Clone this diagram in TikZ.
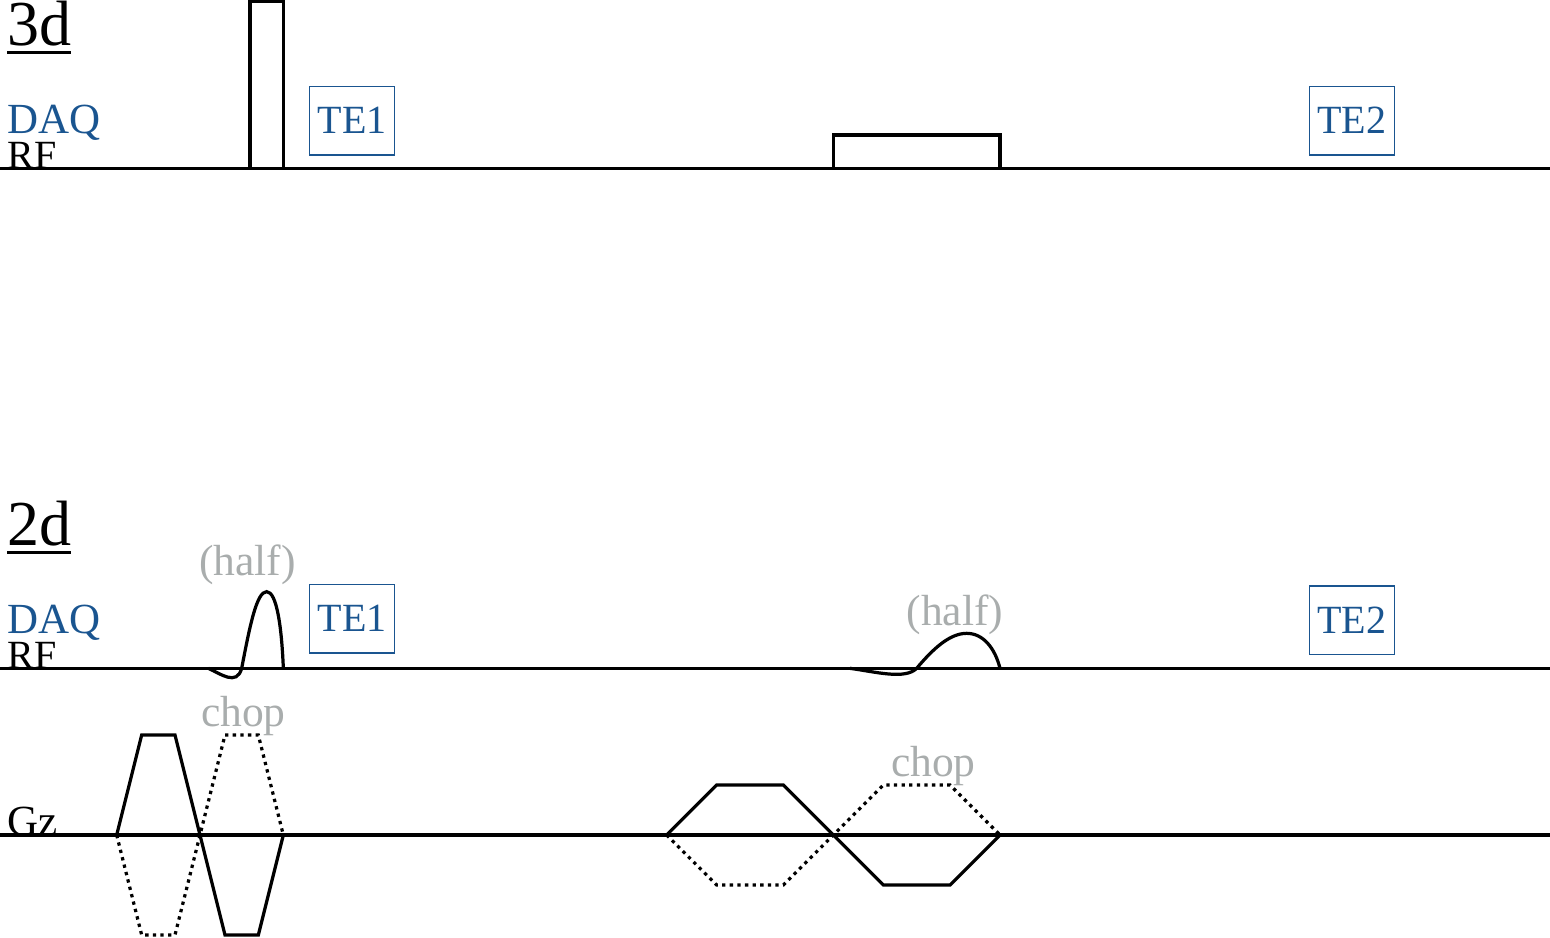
\documentclass[tikz,border=0pt]{standalone}
\usepackage{fontspec}
\setmainfont{Liberation Serif}

\definecolor{daqblue}{HTML}{1A5590}
\definecolor{notegray}{HTML}{A9ADAD}

\newcommand{\seqtitle}[1]{\vtop{\hbox{#1}\kern2.4pt\hrule height 1.25pt}}

\tikzset{
  pulse/.style={line width=1.65pt,line join=miter},
  chopped/.style={pulse,dash pattern=on 1.7pt off 2.2pt},
  seqlabel/.style={anchor=base west,inner sep=0pt,font=\fontsize{20.5}{25}\selectfont},
  daqlabel/.style={seqlabel,text=daqblue,font=\fontsize{22}{25}\selectfont},
  title/.style={anchor=base west,inner sep=0pt,font=\fontsize{32.8}{36}\selectfont},
  note/.style={anchor=base,inner sep=0pt,text=notegray,font=\fontsize{22.3}{25}\selectfont},
  tebox/.style={draw=daqblue,line width=.6pt,text=daqblue,inner sep=0pt,
    minimum width=1.53cm,minimum height=1.235cm,font=\fontsize{20.5}{25}\selectfont},
}

\begin{document}
\begin{tikzpicture}[xscale=.3,yscale=.3]
\useasboundingbox (0,-6.12) rectangle (93,50.1);

% 3d
\node[title] (title3d) at (.42,47.35) {\seqtitle{3d}};
\node[daqlabel] (daq3d) at (.42,42.1) {DAQ};
\node[seqlabel] (rf3d) at (.42,40) {RF};
\node[tebox] (te13d) at (21.12,42.86) {TE1};
\node[tebox] (te23d) at (81.1,42.86) {TE2};

\draw[pulse] (0,40) -- (93,40);
\draw[pulse] (15,40) rectangle (17,50);
\draw[pulse] (50,40) rectangle (60,42);

% 2d
\node[title] (title2d) at (.42,17.35) {\seqtitle{2d}};
\node[daqlabel] (daq2d) at (.42,12.1) {DAQ};
\node[seqlabel] (rf2d) at (.42,10) {RF};
\node[tebox] (te12d) at (21.12,12.98) {TE1};
\node[tebox] (te22d) at (81.1,12.88) {TE2};
\node[note] (halfa) at (14.85,15.6) {(half)};
\node[note] (halfb) at (57.3,12.6) {(half)};

\draw[pulse] (0,10) -- (93,10);
\draw[pulse] (12.5,10) .. controls (13.2,9.7) and (14.2,8.9) .. (14.5,10)
  .. controls (15,12.6) and (15.4,14.6) .. (16,14.6)
  .. controls (16.6,14.6) and (16.9,12.5) .. (17,10);
\draw[pulse] (51,10) .. controls (52.5,9.8) and (54.3,9.3) .. (55,10)
  .. controls (56,11.2) and (57,12.1) .. (58,12.1)
  .. controls (59,12.1) and (59.7,11.2) .. (60,10);

% Gz
\node[seqlabel,font=\fontsize{22}{25}\selectfont] (gz) at (.42,0) {Gz};
\node[note] (chopa) at (14.6,6.5) {chop};
\node[note] (chopb) at (56,3.5) {chop};

\draw[pulse] (0,0) -- (93,0);

\draw[pulse] (7,0) -- (8.5,6) -- (10.5,6) -- (12,0) -- (13.5,-6) -- (15.5,-6) -- (17,0);
\draw[chopped] (7,0) -- (8.5,-6) -- (10.5,-6) -- (12,0) -- (13.5,6) -- (15.5,6) -- (17,0);

\draw[pulse] (40,0) -- (43,3) -- (47,3) -- (50,0) -- (53,-3) -- (57,-3) -- (60,0);
\draw[chopped] (40,0) -- (43,-3) -- (47,-3) -- (50,0) -- (53,3) -- (57,3) -- (60,0);

\end{tikzpicture}
\end{document}
